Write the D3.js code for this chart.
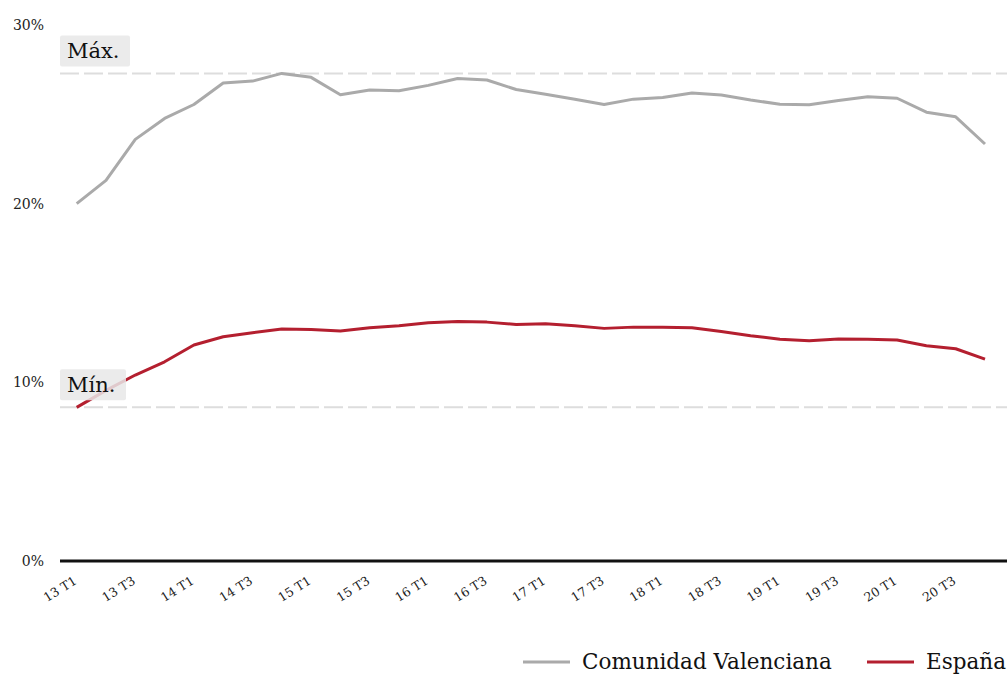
<!DOCTYPE html>
<html>
<head>
<meta charset="utf-8">
<script src="https://cdn.jsdelivr.net/npm/d3@7"></script>
<style>
  body { margin: 0; background: #fff; }
  svg { display: block; font-family: "DejaVu Serif", "Liberation Serif", serif; }
</style>
</head>
<body>
<div id="chart"></div>
<script>
// Quarters 2013 T1 - 2020 T4
var quarters = [];
for (var yr = 13; yr <= 20; yr++) {
    for (var q = 1; q <= 4; q++) quarters.push(yr + " T" + q);
}

var valenciana = [20.0, 21.3, 23.6, 24.77, 25.55, 26.75, 26.86, 27.29, 27.07, 26.1,
    26.36, 26.32, 26.62, 27.01, 26.92, 26.39, 26.13, 25.85, 25.55, 25.85,
    25.94, 26.19, 26.08, 25.8, 25.57, 25.54, 25.77, 25.99, 25.9, 25.12,
    24.86, 23.34];

var espana = [8.6, 9.55, 10.41, 11.15, 12.09, 12.55, 12.78, 12.98, 12.96, 12.87,
    13.06, 13.17, 13.34, 13.41, 13.37, 13.24, 13.28, 13.17, 13.02, 13.09,
    13.09, 13.06, 12.85, 12.61, 12.41, 12.33, 12.42, 12.41, 12.37, 12.05,
    11.88, 11.30];

var yTicks = [0, 10, 20, 30];
var seriesNames = ["Comunidad Valenciana", "España"];
var seriesColors = ["#aaaaaa", "#b41f2f"];

var width = 1007, height = 675;

var svg = d3.select("#chart").append("svg")
    .attr("width", width)
    .attr("height", height);

// Scales
var xScale = d3.scalePoint()
    .domain(quarters)
    .range([76.7, 985]);

var yScale = d3.scaleLinear()
    .domain([0, 30])
    .range([561, 25]);

// Y labels
svg.append("g")
    .selectAll("text")
    .data(yTicks)
    .enter()
    .append("text")
    .attr("x", 44)
    .attr("y", d => yScale(d) + 5)
    .attr("text-anchor", "end")
    .style("font-size", "14px")
    .attr("fill", "#222")
    .text(d => d + "%");

// Max / min reference lines
var maxVal = d3.max(valenciana);
var minVal = d3.min(espana);

svg.append("g")
    .selectAll("line")
    .data([maxVal, minVal])
    .enter()
    .append("line")
    .attr("x1", 60)
    .attr("x2", width)
    .attr("y1", d => yScale(d))
    .attr("y2", d => yScale(d))
    .attr("stroke", "#dddddd")
    .attr("stroke-width", 2)
    .attr("stroke-dasharray", "19,5");

// Lines
var line = d3.line()
    .x((d, i) => xScale(quarters[i]))
    .y(d => yScale(d));

[valenciana, espana].forEach(function (s, i) {
    svg.append("path")
        .datum(s)
        .attr("fill", "none")
        .attr("stroke", seriesColors[i])
        .attr("stroke-width", 3)
        .attr("stroke-linejoin", "round")
        .attr("d", line);
});

// Max / Min label boxes
var refLabels = [
    { text: "Máx.", y: yScale(maxVal) - 38, w: 70 },
    { text: "Mín.", y: yScale(minVal) - 38, w: 66 }
];
var lab = svg.append("g").selectAll("g")
    .data(refLabels)
    .enter()
    .append("g");
lab.append("rect")
    .attr("x", 60)
    .attr("y", d => d.y)
    .attr("width", d => d.w)
    .attr("height", 31)
    .attr("rx", 2)
    .attr("fill", "#e8e8e8")
    .attr("fill-opacity", 0.85);
lab.append("text")
    .attr("x", 67)
    .attr("y", d => d.y + 23)
    .style("font-size", "21px")
    .attr("fill", "#111")
    .text(d => d.text);

// X axis baseline
svg.append("line")
    .attr("x1", 60)
    .attr("x2", width)
    .attr("y1", yScale(0))
    .attr("y2", yScale(0))
    .attr("stroke", "#111")
    .attr("stroke-width", 3);

// X labels, every other quarter
svg.append("g")
    .selectAll("text")
    .data(quarters.filter((d, i) => i % 2 === 0))
    .enter()
    .append("text")
    .attr("transform", d => "translate(" + (xScale(d) + 1) + "," + (yScale(0) + 22) + ") rotate(-32)")
    .attr("text-anchor", "end")
    .style("font-size", "12.5px")
    .attr("fill", "#222")
    .text(d => d);

// Legend
var legendX = [523, 867];
var legend = svg.append("g").selectAll("g")
    .data(seriesNames)
    .enter()
    .append("g")
    .attr("transform", (d, i) => "translate(" + legendX[i] + ",662)");
legend.append("line")
    .attr("x1", 0)
    .attr("x2", 47)
    .attr("stroke", (d, i) => seriesColors[i])
    .attr("stroke-width", 3);
legend.append("text")
    .attr("x", 59)
    .attr("y", 7)
    .style("font-size", "21.5px")
    .attr("fill", "#111")
    .text(d => d);
</script>
</body>
</html>
